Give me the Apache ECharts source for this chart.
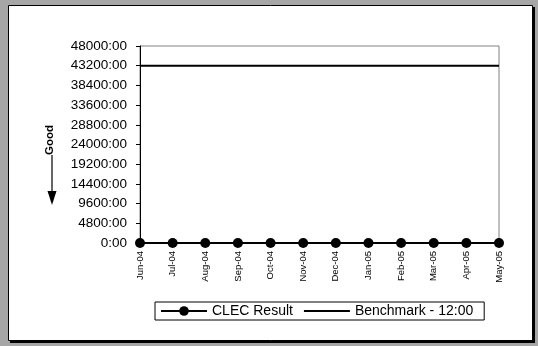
<!DOCTYPE html>
<html><head><meta charset="utf-8">
<script src="https://cdn.jsdelivr.net/npm/echarts@6/dist/echarts.min.js"></script>
<style>html,body{margin:0;padding:0;background:#a6a6a6;}#c{width:538px;height:346px;}</style>
</head><body><div id="c"></div>
<script>
const categories = ['Jun-04','Jul-04','Aug-04','Sep-04','Oct-04','Nov-04','Dec-04','Jan-05','Feb-05','Mar-05','Apr-05','May-05'];
const clecResult = [0,0,0,0,0,0,0,0,0,0,0,0];
const benchmark = [43200,43200,43200,43200,43200,43200,43200,43200,43200,43200,43200,43200];
const yMin = 0, yMax = 48000, yStep = 4800;

const chart = echarts.init(document.getElementById('c'), null, {renderer:'canvas'});
const font = 'Liberation Sans, Arial, sans-serif';
chart.setOption({
  backgroundColor: '#a6a6a6',
  animation: false,
  textStyle: {fontFamily: font},
  graphic: [
    {type:'rect', z:-10, shape:{x:10, y:7, width:525, height:336}, style:{fill:'#000'}},
    {type:'rect', z:-9, shape:{x:8.5, y:5.5, width:524, height:335}, style:{fill:'#fff', stroke:'#000', lineWidth:1}},
    {type:'text', left:44, top:125, rotation:Math.PI/2, style:{text:'Good', font:'bold 11.5px ' + font, fill:'#000'}},
    {type:'line', shape:{x1:52, y1:155, x2:52, y2:194}, style:{stroke:'#000', lineWidth:1.2}},
    {type:'polygon', shape:{points:[[47.5,191],[56.5,191],[52,205]]}, style:{fill:'#000'}}
  ],
  grid: {left:140, top:46, right:39, bottom:103, show:true, borderColor:'#808080', borderWidth:1, backgroundColor:'transparent'},
  legend: {
    top: 302, left: 155,
    data: ['CLEC Result', {name:'Benchmark - 12:00', itemStyle:{opacity:0, color:'rgba(0,0,0,0)', borderWidth:0}}],
    borderColor:'#000', borderWidth:1, padding:[2,11,2,5],
    itemWidth: 46, itemHeight: 12, itemGap: 10,
    textStyle:{fontSize:14, color:'#000', fontFamily: font}
  },
  xAxis: {
    type:'category', data: categories, boundaryGap:false,
    axisLine:{lineStyle:{color:'#000', width:1}},
    axisTick:{show:false},
    axisLabel:{rotate:90, fontSize:9.5, color:'#000', margin:8, fontFamily: font, interval:0}
  },
  yAxis: {
    type:'value', min:yMin, max:yMax, interval:yStep,
    axisLine:{show:true, lineStyle:{color:'#000', width:1}},
    axisTick:{show:true, length:4, lineStyle:{color:'#000'}},
    splitLine:{show:false},
    axisLabel:{formatter: v => v + ':00', fontSize:13.5, color:'#000', margin:13, fontFamily: font}
  },
  series: [
    {name:'CLEC Result', type:'line', data: clecResult, symbol:'circle', symbolSize:10,
      lineStyle:{color:'#000', width:2}, itemStyle:{color:'#000'}, z:5},
    {name:'Benchmark - 12:00', type:'line', data: benchmark, symbol:'none', showSymbol:false,
      lineStyle:{color:'#000', width:2}, itemStyle:{color:'#000'}}
  ]
});
</script></body></html>
